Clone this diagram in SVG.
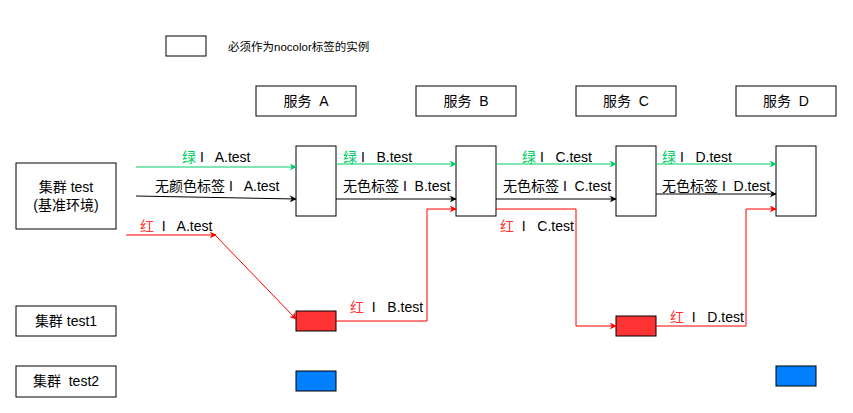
<svg xmlns="http://www.w3.org/2000/svg" width="853" height="413" viewBox="0 0 853 413">
<defs>
<style>
text{font-family:"Liberation Sans","Noto Sans CJK SC",sans-serif;font-size:14px;fill:#000;white-space:pre}
.c{text-anchor:middle}
.box{fill:#fff;stroke:#000;stroke-width:1}
.g{fill:#00cc66}
.r{fill:#ff3333}
.lg{stroke:#00cc66;fill:none;stroke-width:1}
.lk{stroke:#000;fill:none;stroke-width:1}
.lr{stroke:#ff0000;fill:none;stroke-width:1}
</style>
<marker id="ag" viewBox="0 0 10 10" refX="9" refY="5" markerWidth="7" markerHeight="7" orient="auto" markerUnits="userSpaceOnUse"><path d="M0,0 L10,5 L0,10 L3,5 Z" fill="#00cc66"/></marker>
<marker id="ak" viewBox="0 0 10 10" refX="9" refY="5" markerWidth="7" markerHeight="7" orient="auto" markerUnits="userSpaceOnUse"><path d="M0,0 L10,5 L0,10 L3,5 Z" fill="#000"/></marker>
<marker id="ar" viewBox="0 0 10 10" refX="9" refY="5" markerWidth="7" markerHeight="7" orient="auto" markerUnits="userSpaceOnUse"><path d="M0,0 L10,5 L0,10 L3,5 Z" fill="#ff0000"/></marker>
</defs>
<rect width="853" height="413" fill="#fff"/>

<g id="legend">
<rect class="box" x="166" y="36" width="40" height="20"/>
<text x="228" y="51" style="font-size:11.5px">必须作为nocolor标签的实例</text>
</g>

<g id="svcA"><rect class="box" x="256" y="86" width="100" height="30"/><text class="c" x="306" y="106" xml:space="preserve">服务  A</text></g>
<g id="svcB"><rect class="box" x="416" y="86" width="100" height="30"/><text class="c" x="466" y="106" xml:space="preserve">服务  B</text></g>
<g id="svcC"><rect class="box" x="576" y="86" width="100" height="30"/><text class="c" x="626" y="106" xml:space="preserve">服务  C</text></g>
<g id="svcD"><rect class="box" x="736" y="86" width="100" height="30"/><text class="c" x="786" y="106" xml:space="preserve">服务  D</text></g>

<g id="instA"><rect class="box" x="296" y="146" width="40" height="70"/></g>
<g id="instB"><rect class="box" x="456" y="146" width="40" height="70"/></g>
<g id="instC"><rect class="box" x="616" y="146" width="40" height="70"/></g>
<g id="instD"><rect class="box" x="776" y="146" width="40" height="70"/></g>

<g id="clusterTest"><rect class="box" x="16" y="163" width="100" height="66"/><text class="c" x="66" y="192">集群 test</text><text class="c" x="66" y="210">(基准环境)</text></g>
<g id="clusterTest1"><rect class="box" x="16" y="306" width="100" height="30"/><text class="c" x="66" y="326">集群 test1</text></g>
<g id="clusterTest2"><rect class="box" x="16" y="366" width="100" height="31"/><text class="c" x="66" y="386" xml:space="preserve">集群  test2</text></g>

<g id="redA"><rect x="296" y="311" width="40" height="20" fill="#ff3333" stroke="#000"/></g>
<g id="blueA"><rect x="296" y="371" width="40" height="20" fill="#007fff" stroke="#000"/></g>
<g id="redC"><rect x="616" y="316" width="40" height="20" fill="#ff3333" stroke="#000"/></g>
<g id="blueD"><rect x="776" y="366" width="40" height="20" fill="#007fff" stroke="#000"/></g>

<g id="connectors">
<line class="lg" x1="136" y1="167" x2="296" y2="167" marker-end="url(#ag)"/>
<line class="lk" x1="136" y1="196" x2="296" y2="199" marker-end="url(#ak)"/>
<line class="lr" x1="126" y1="235" x2="216" y2="235" marker-end="url(#ar)"/>
<line class="lr" x1="215" y1="235" x2="296" y2="319" marker-end="url(#ar)"/>

<line class="lg" x1="336" y1="164" x2="456" y2="164" marker-end="url(#ag)"/>
<line class="lk" x1="336" y1="199" x2="456" y2="199" marker-end="url(#ak)"/>
<polyline class="lr" points="336,321 427,321 427,209 456,209" marker-end="url(#ar)"/>

<line class="lg" x1="496" y1="164" x2="616" y2="164" marker-end="url(#ag)"/>
<line class="lk" x1="496" y1="199" x2="616" y2="199" marker-end="url(#ak)"/>
<polyline class="lr" points="496,209 576,209 576,326 616,326" marker-end="url(#ar)"/>

<line class="lg" x1="656" y1="164" x2="776" y2="164" marker-end="url(#ag)"/>
<line class="lk" x1="656" y1="194" x2="776" y2="194" marker-end="url(#ak)"/>
<polyline class="lr" points="656,326 746,326 746,209 776,209" marker-end="url(#ar)"/>
</g>

<g id="labels">
<text x="182" y="162" xml:space="preserve"><tspan class="g">绿</tspan> I   A.test</text>
<text x="155" y="191" xml:space="preserve">无颜色标签 I   A.test</text>
<text x="140" y="231" xml:space="preserve"><tspan class="r">红</tspan>  I   A.test</text>
<text x="343" y="162" xml:space="preserve"><tspan class="g">绿</tspan> I   B.test</text>
<text x="343" y="191" xml:space="preserve">无色标签 I  B.test</text>
<text x="522" y="162" xml:space="preserve"><tspan class="g">绿</tspan> I   C.test</text>
<text x="503" y="191" xml:space="preserve">无色标签 I  C.test</text>
<text x="500" y="231" xml:space="preserve"><tspan class="r">红</tspan>  I   C.test</text>
<text x="662" y="162" xml:space="preserve"><tspan class="g">绿</tspan> I   D.test</text>
<text x="662" y="191" xml:space="preserve">无色标签 I  D.test</text>
<text x="350" y="312" xml:space="preserve"><tspan class="r">红</tspan>  I   B.test</text>
<text x="670" y="322" xml:space="preserve"><tspan class="r">红</tspan>  I   D.test</text>
</g>
</svg>
